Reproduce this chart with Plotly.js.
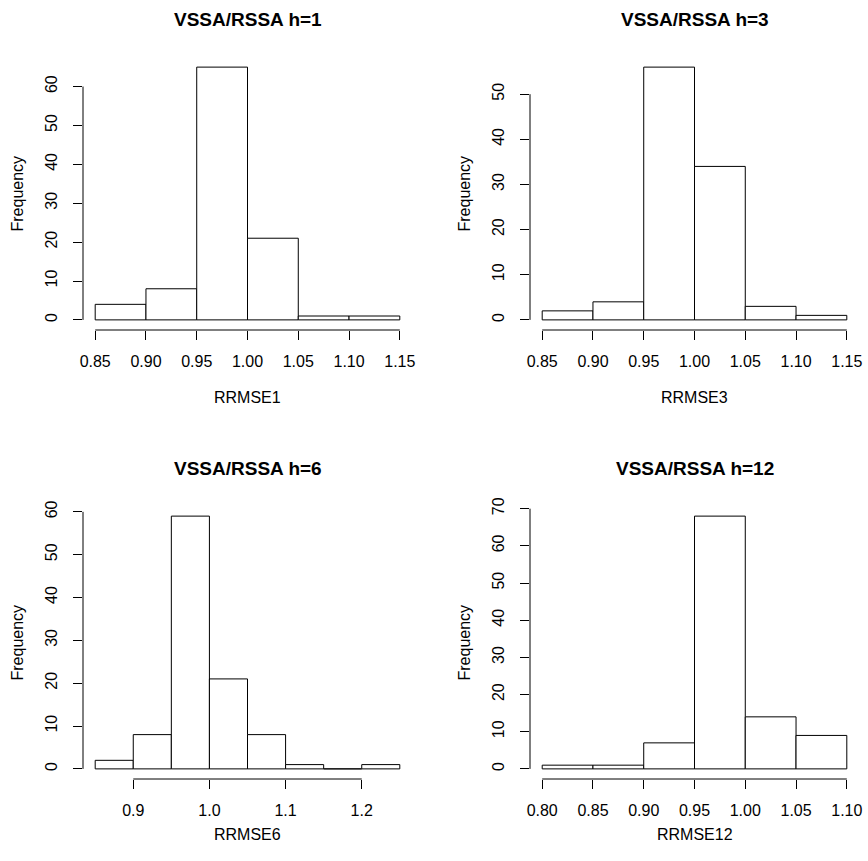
<!DOCTYPE html>
<html>
<head>
<meta charset="utf-8">
<script src="https://cdn.plot.ly/plotly-3.0.1.min.js"></script>
<style>html,body{margin:0;padding:0;background:#fff;}</style>
</head>
<body>
<div id="chart" style="width:868px;height:861px;"></div>
<script>
// ---- data ----
const titles = ["VSSA/RSSA h=1", "VSSA/RSSA h=3", "VSSA/RSSA h=6", "VSSA/RSSA h=12"];
const xTitles = ["RRMSE1", "RRMSE3", "RRMSE6", "RRMSE12"];
const binStart = [0.85, 0.85, 0.85, 0.80];
const binWidth = 0.05;
const counts1 = [4, 8, 65, 21, 1, 1];
const counts3 = [2, 4, 56, 34, 3, 1];
const counts6 = [2, 8, 59, 21, 8, 1, 0, 1];
const counts12 = [1, 1, 7, 68, 14, 9];
const xTicks1 = [0.85, 0.90, 0.95, 1.00, 1.05, 1.10, 1.15];
const xTickText1 = ["0.85", "0.90", "0.95", "1.00", "1.05", "1.10", "1.15"];
const xTicks3 = xTicks1, xTickText3 = xTickText1;
const xTicks6 = [0.9, 1.0, 1.1, 1.2];
const xTickText6 = ["0.9", "1.0", "1.1", "1.2"];
const xTicks12 = [0.80, 0.85, 0.90, 0.95, 1.00, 1.05, 1.10];
const xTickText12 = ["0.80", "0.85", "0.90", "0.95", "1.00", "1.05", "1.10"];
const yTicks1 = [0, 10, 20, 30, 40, 50, 60];
const yTicks3 = [0, 10, 20, 30, 40, 50];
const yTicks6 = [0, 10, 20, 30, 40, 50, 60];
const yTicks12 = [0, 10, 20, 30, 40, 50, 60, 70];

const allCounts = [counts1, counts3, counts6, counts12];
const allXT = [xTicks1, xTicks3, xTicks6, xTicks12];
const allXTT = [xTickText1, xTickText3, xTickText6, xTickText12];
const allYT = [yTicks1, yTicks3, yTicks6, yTicks12];

// ---- layout geometry (pixels) ----
const W = 868, H = 861;
const FONT = "Liberation Sans, Arial, Helvetica, sans-serif";
const panels = [
  {x0: 83, x1: 412, y0: 57, y1: 330},
  {x0: 530, x1: 859, y0: 57, y1: 330},
  {x0: 83, x1: 412, y0: 506, y1: 779},
  {x0: 530, x1: 859, y0: 506, y1: 779}
];
const titleY = [19, 19, 468, 468];
const xTitleY = [397, 397, 834, 834];

const traces = [];
const layout = {
  width: W, height: H,
  margin: {l: 0, r: 0, t: 0, b: 0},
  paper_bgcolor: "#fff", plot_bgcolor: "#fff",
  showlegend: false,
  font: {family: FONT, size: 16, color: "#000"},
  shapes: [], annotations: []
};

for (let i = 0; i < 4; i++) {
  const c = allCounts[i];
  const start = binStart[i];
  const nb = c.length;
  const xs = c.map((_, k) => start + binWidth * (k + 0.5));
  const lo = start, hi = start + binWidth * nb;
  const pad = (hi - lo) * 0.04;
  const ymax = Math.max(...c);
  const ypad = ymax * 0.04;
  const sfx = i === 0 ? "" : String(i + 1);
  traces.push({
    type: "bar", x: xs, y: c, width: binWidth,
    xaxis: "x" + sfx, yaxis: "y" + sfx,
    marker: {color: "#fff", line: {color: "#000", width: 1}},
    hoverinfo: "x+y"
  });
  const p = panels[i];
  layout["xaxis" + sfx] = {
    domain: [p.x0 / W, p.x1 / W],
    anchor: "y" + sfx,
    range: [lo - pad, hi + pad],
    showgrid: false, zeroline: false, showline: false,
    tickmode: "array", tickvals: allXT[i], ticktext: allXTT[i],
    ticks: "outside", ticklen: 9, tickwidth: 1, tickcolor: "#000",
    tickfont: {family: FONT, size: 16, color: "#000"},
    ticklabelstandoff: 8,
    fixedrange: true
  };
  layout["yaxis" + sfx] = {
    domain: [1 - p.y1 / H, 1 - p.y0 / H],
    anchor: "x" + sfx,
    range: [-ypad, ymax + ypad],
    showgrid: false, zeroline: false, showline: false,
    tickmode: "array", tickvals: allYT[i],
    ticks: "outside", ticklen: 9, tickwidth: 1, tickcolor: "#000",
    tickangle: -90,
    tickfont: {family: FONT, size: 16, color: "#000"},
    ticklabelstandoff: 10,
    fixedrange: true
  };
  const xt = allXT[i], yt = allYT[i];
  // axis lines spanning the tick range (R style)
  layout.shapes.push({type: "line", xref: "x" + sfx, yref: "y" + sfx + " domain",
    x0: xt[0], x1: xt[xt.length - 1], y0: 0, y1: 0, line: {color: "#000", width: 1}});
  layout.shapes.push({type: "line", xref: "x" + sfx + " domain", yref: "y" + sfx,
    x0: 0, x1: 0, y0: yt[0], y1: yt[yt.length - 1], line: {color: "#000", width: 1}});
  // titles
  const cx = (p.x0 + p.x1) / 2 / W;
  layout.annotations.push({text: "<b>" + titles[i] + "</b>", xref: "paper", yref: "paper",
    x: cx, y: 1 - titleY[i] / H, xanchor: "center", yanchor: "middle", showarrow: false,
    font: {family: FONT, size: 19, color: "#000"}});
  layout.annotations.push({text: xTitles[i], xref: "paper", yref: "paper",
    x: cx, y: 1 - xTitleY[i] / H, xanchor: "center", yanchor: "middle", showarrow: false,
    font: {family: FONT, size: 16, color: "#000"}});
  const fx = (i % 2 === 0) ? 17 : 464;
  layout.annotations.push({text: "Frequency", xref: "paper", yref: "paper",
    x: fx / W, y: 1 - ((p.y0 + p.y1) / 2) / H, xanchor: "center", yanchor: "middle",
    textangle: -90, showarrow: false,
    font: {family: FONT, size: 16, color: "#000"}});
}

Plotly.newPlot("chart", traces, layout, {staticPlot: true, displayModeBar: false});
</script>
</body>
</html>
